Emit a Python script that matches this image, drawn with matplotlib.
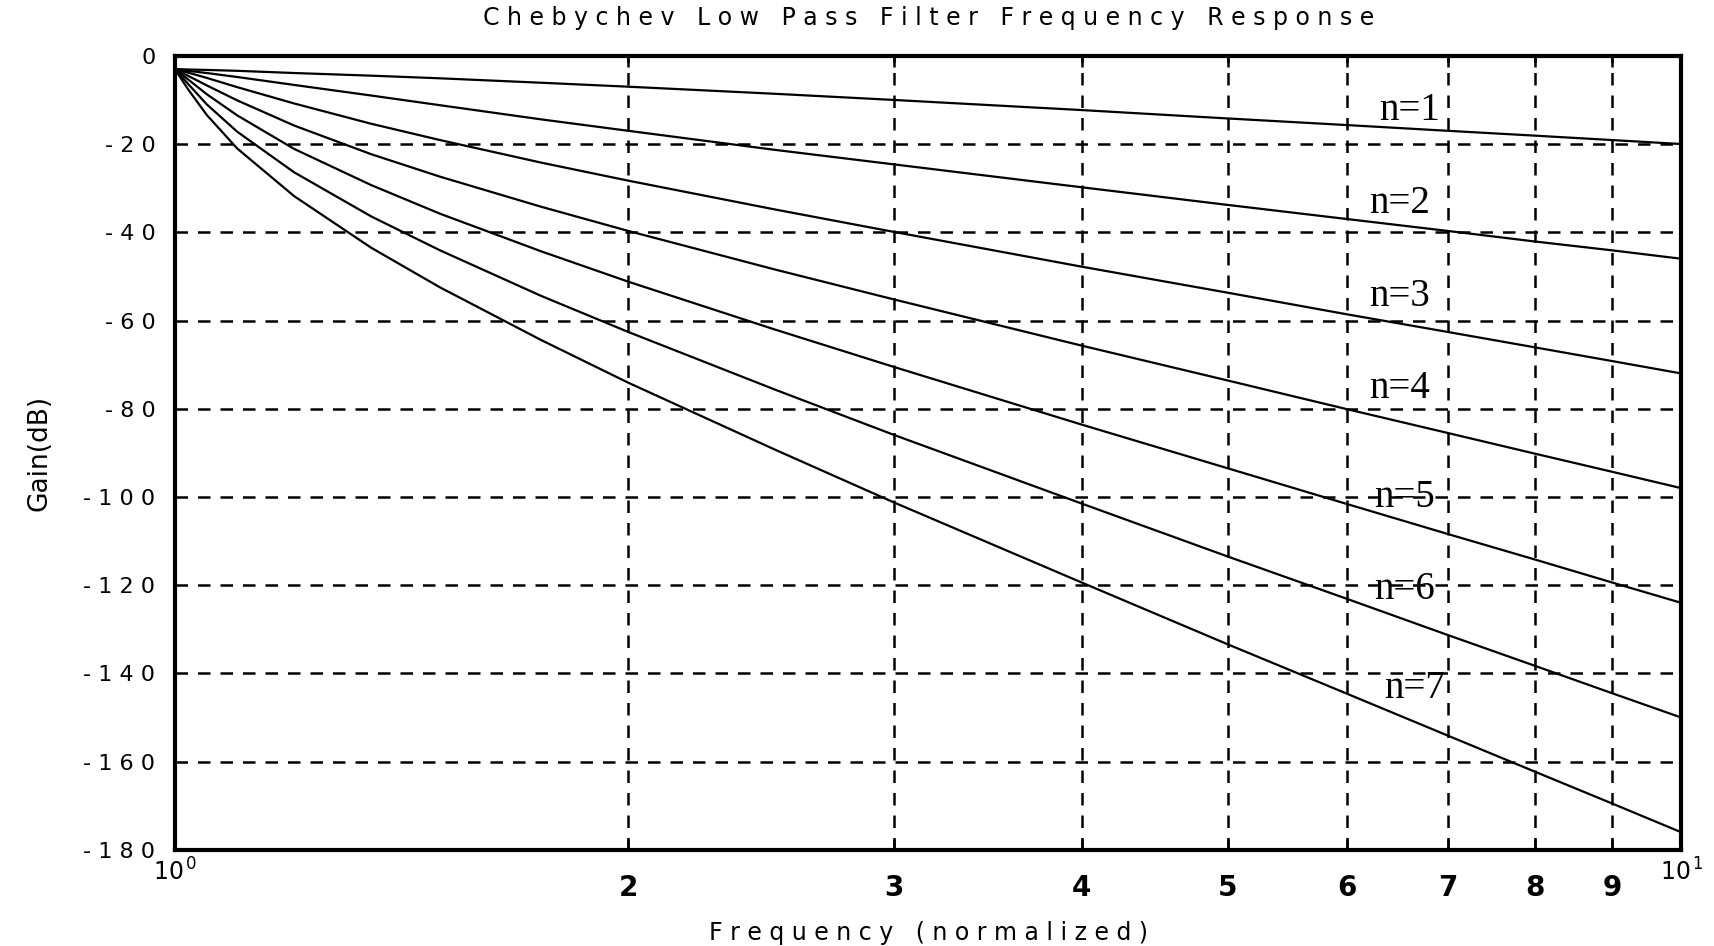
import matplotlib
matplotlib.use('Agg')
import matplotlib.pyplot as plt
from matplotlib.ticker import FixedLocator, FixedFormatter

# frequency points (normalized)
freq = [1.0, 1.02, 1.05, 1.1, 1.2, 1.35, 1.5, 1.75, 2.0, 2.5, 3.0, 4.0, 5.0, 6.0, 7.0, 8.0, 9.0, 10.0]

# gain in dB for each filter order
gain_n1 = [-3.0, -3.1, -3.2, -3.4, -3.9, -4.5, -5.1, -6.1, -7.0, -8.6, -10.0, -12.3, -14.2, -15.7, -17.0, -18.1, -19.1, -20.0]
gain_n2 = [-3.0, -3.4, -3.9, -4.8, -6.6, -9.0, -11.2, -14.4, -17.0, -21.3, -24.6, -29.8, -33.8, -37.0, -39.7, -42.1, -44.1, -46.0]
gain_n3 = [-3.0, -3.8, -5.0, -7.1, -10.8, -15.4, -19.1, -24.2, -28.3, -34.8, -39.9, -47.8, -53.7, -58.6, -62.6, -66.1, -69.2, -72.0]
gain_n4 = [-3.0, -4.5, -6.7, -10.1, -15.8, -22.3, -27.4, -34.2, -39.7, -48.4, -55.2, -65.7, -73.6, -80.1, -85.5, -90.2, -94.3, -98.0]
gain_n5 = [-3.0, -5.3, -8.7, -13.5, -21.1, -29.3, -35.8, -44.3, -51.2, -62.0, -70.5, -83.6, -93.5, -101.6, -108.4, -114.2, -119.4, -124.0]
gain_n6 = [-3.0, -6.3, -11.0, -17.2, -26.4, -36.4, -44.1, -54.4, -62.6, -75.6, -85.9, -101.5, -113.5, -123.1, -131.3, -138.3, -144.5, -150.0]
gain_n7 = [-3.0, -7.5, -13.4, -21.0, -31.8, -43.5, -52.5, -64.4, -74.1, -89.2, -101.2, -119.4, -133.4, -144.6, -154.1, -162.3, -169.5, -176.0]

gains = [gain_n1, gain_n2, gain_n3, gain_n4, gain_n5, gain_n6, gain_n7]
order_labels = ['n=1', 'n=2', 'n=3', 'n=4', 'n=5', 'n=6', 'n=7']
label_x = [6.6, 6.5, 6.5, 6.5, 6.55, 6.55, 6.65]
label_y = [-12.5, -33.5, -54.5, -75.5, -100, -121, -143.5]

yticks = [0, -20, -40, -60, -80, -100, -120, -140, -160, -180]
minor_x = [2, 3, 4, 5, 6, 7, 8, 9]


def spaced(s):
    return ' '.join(s)


fig = plt.figure(figsize=(17.14, 9.46), dpi=100)
ax = fig.add_axes([0.102, 0.1015, 0.879, 0.8395])

for g in gains:
    ax.plot(freq, g, color='black', lw=1.6)

for lab, lx, ly in zip(order_labels, label_x, label_y):
    ax.text(lx, ly, lab, ha='center', va='center', fontsize=28,
            family='Liberation Serif', color='black')

ax.set_xscale('log')
ax.set_xlim(1, 10)
ax.set_ylim(-180, 0)

# dashed grid
for y in yticks[1:-1]:
    ax.axhline(y, color='black', lw=1.8, ls=(0, (5, 4)), zorder=0)
for x in minor_x:
    ax.axvline(x, color='black', lw=1.8, ls=(0, (5, 4)), zorder=0)

ax.xaxis.set_major_locator(FixedLocator([1, 10]))
ax.xaxis.set_major_formatter(FixedFormatter([r'$\mathregular{10^{\,0}}$', r'$\mathregular{10^{\,1}}$']))
ax.xaxis.set_minor_locator(FixedLocator(minor_x))
ax.xaxis.set_minor_formatter(FixedFormatter([str(v) for v in minor_x]))

ax.set_yticks(yticks)
ax.set_yticklabels([spaced(str(v)) if v != 0 else '0' for v in yticks])

ax.tick_params(axis='x', which='major', length=0, pad=6, labelsize=17)
ax.tick_params(axis='x', which='minor', direction='in', length=8, width=1.8,
               top=True, pad=17, labelsize=20)
for t in ax.xaxis.get_minorticklabels():
    t.set_fontweight('bold')
ax.tick_params(axis='y', direction='in', length=0, pad=14, labelsize=16)

for s in ax.spines.values():
    s.set_linewidth(3)

ax.set_title(spaced('Chebychev Low Pass Filter Frequency Response'), fontsize=17, pad=22)
ax.set_xlabel(spaced('Frequency (normalized)'), fontsize=17, labelpad=14)
ax.set_ylabel('Gain(dB)', fontsize=19, labelpad=22)

fig.savefig('out.png', dpi=100)
